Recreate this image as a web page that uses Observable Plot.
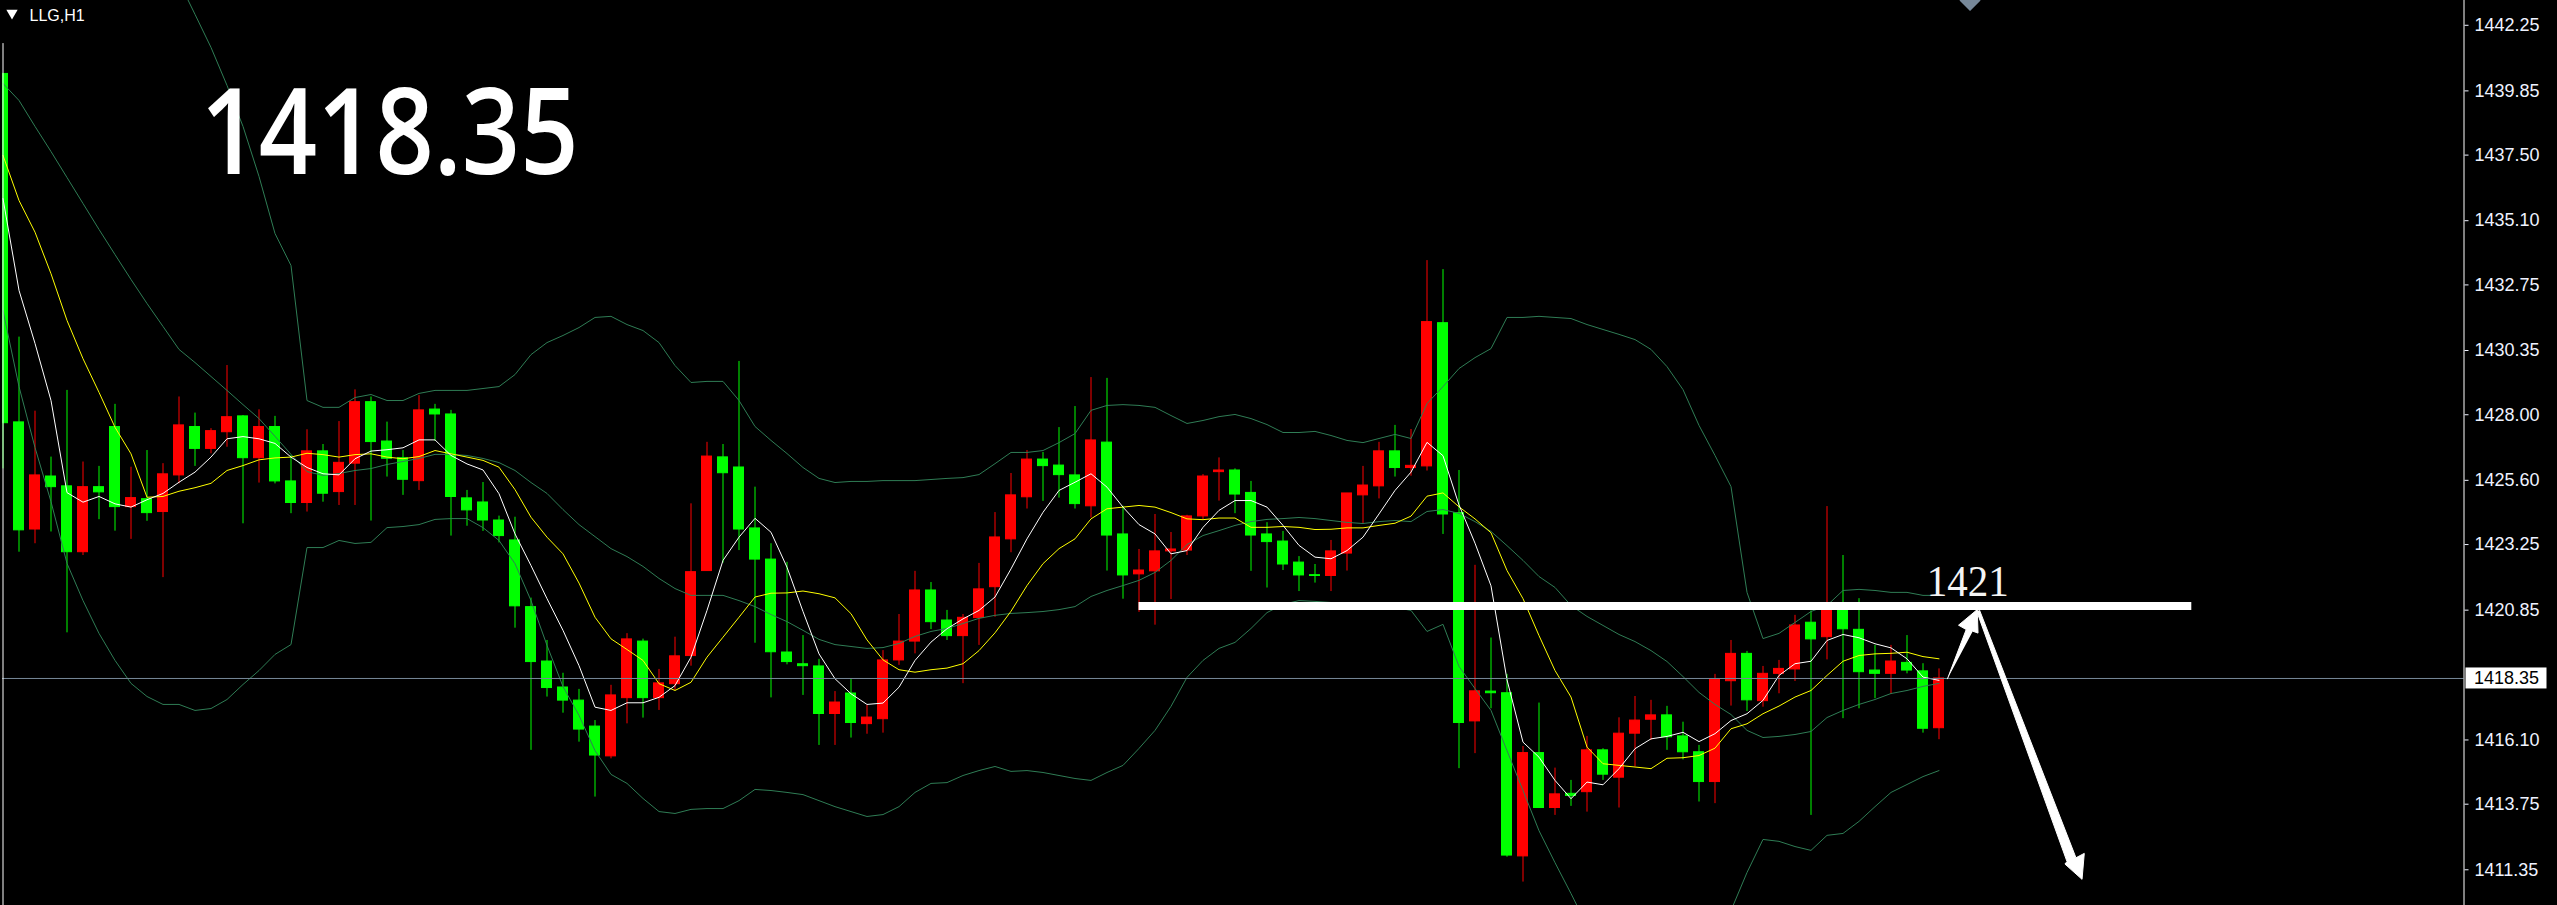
<!DOCTYPE html>
<html><head><meta charset="utf-8">
<script src="https://cdn.jsdelivr.net/npm/d3@7"></script>
<script src="https://cdn.jsdelivr.net/npm/@observablehq/plot@0.6"></script>
<style>
html,body{margin:0;padding:0;background:#000;overflow:hidden;}
#chart svg{display:block;}
</style></head><body><div id="chart"></div>
<script>
// ---------- data ----------
const symbolLabel = "LLG,H1";
const open = [1440.47,1427.72,1423.80,1425.74,1425.38,1422.97,1425.35,1427.55,1424.62,1424.91,
1424.44,1425.78,1427.55,1426.75,1427.36,1427.94,1426.41,1427.55,1425.56,1424.77,
1426.66,1425.17,1426.21,1428.46,1427.02,1426.41,1425.57,1428.19,1428.01,1424.94,
1424.79,1424.13,1423.40,1420.96,1418.97,1418.02,1417.54,1416.59,1415.50,1417.63,
1419.70,1417.63,1418.14,1419.17,1422.28,1426.44,1426.07,1423.84,1422.70,1419.30,
1418.87,1418.79,1417.05,1417.80,1416.68,1416.86,1419.01,1419.70,1421.57,1420.47,
1419.90,1420.56,1421.69,1423.44,1424.98,1426.36,1426.14,1425.78,1424.65,1426.98,
1423.62,1422.16,1422.27,1423.00,1423.03,1424.28,1425.90,1425.96,1425.14,1423.62,
1423.36,1422.59,1422.13,1422.10,1422.92,1425.05,1425.38,1426.66,1426.05,1426.11,
1431.35,1424.40,1416.78,1417.87,1417.81,1411.84,1415.62,1413.61,1414.13,1414.19,
1415.72,1414.72,1416.33,1416.84,1417.00,1416.23,1415.65,1414.56,1418.25,1419.25,
1417.52,1418.52,1418.68,1420.39,1419.86,1420.84,1420.13,1418.64,1418.52,1418.92,
1418.61,1416.53];
const high = [1440.47,1430.84,1428.13,1426.45,1428.89,1426.27,1426.11,1428.38,1426.08,1426.69,
1426.21,1428.65,1428.06,1427.49,1429.80,1427.97,1428.18,1427.94,1426.51,1427.45,
1426.91,1427.75,1428.91,1428.65,1427.73,1426.69,1428.70,1428.38,1428.16,1425.23,
1425.52,1424.29,1424.25,1421.29,1419.74,1418.54,1417.95,1416.81,1418.10,1419.99,
1419.79,1418.68,1419.86,1424.74,1426.99,1426.91,1429.95,1425.35,1423.28,1422.60,
1419.92,1419.05,1417.87,1418.31,1417.36,1419.37,1420.69,1422.27,1421.86,1420.84,
1420.69,1422.56,1424.42,1425.85,1426.69,1426.62,1427.53,1428.30,1429.36,1429.33,
1424.65,1423.07,1424.35,1423.69,1424.32,1425.81,1426.42,1426.02,1425.56,1424.05,
1423.73,1422.81,1422.52,1423.40,1425.12,1426.11,1426.99,1427.61,1427.46,1433.64,
1433.31,1425.96,1422.49,1419.83,1418.50,1415.86,1417.45,1415.07,1414.62,1416.23,
1415.78,1416.91,1417.69,1417.55,1417.33,1416.75,1415.90,1418.50,1419.74,1419.34,
1418.79,1419.01,1420.66,1420.82,1424.64,1422.85,1421.27,1419.56,1419.56,1419.92,
1418.89,1418.70];
const low = [1426.02,1422.97,1423.28,1423.71,1420.02,1422.85,1424.16,1423.74,1423.44,1424.10,
1422.04,1425.47,1426.11,1426.57,1426.81,1424.01,1425.50,1425.47,1424.38,1424.44,
1424.80,1424.68,1424.68,1424.11,1425.72,1425.05,1425.23,1427.03,1423.56,1423.92,
1423.73,1423.31,1420.19,1415.72,1417.67,1417.08,1416.02,1414.01,1415.41,1416.69,
1416.90,1417.18,1417.91,1418.80,1422.28,1422.57,1423.03,1419.64,1417.64,1418.85,
1417.73,1415.90,1415.90,1416.17,1416.31,1416.35,1418.83,1419.25,1420.14,1419.74,
1418.16,1419.56,1420.59,1422.95,1424.55,1424.83,1424.95,1424.55,1424.22,1422.28,
1421.25,1420.77,1420.30,1421.24,1422.85,1424.16,1424.84,1424.38,1422.27,1421.66,
1422.30,1421.53,1421.84,1421.53,1422.28,1424.01,1424.92,1425.72,1425.75,1425.94,
1423.62,1415.05,1415.60,1417.24,1411.81,1410.90,1413.61,1413.34,1413.67,1413.46,
1414.62,1413.61,1415.11,1416.08,1415.72,1415.37,1413.83,1413.77,1417.34,1417.14,
1417.30,1417.79,1418.24,1413.34,1419.03,1416.88,1417.24,1417.61,1417.77,1418.52,
1416.35,1416.11];
const close = [1427.69,1423.77,1425.78,1425.35,1422.97,1425.35,1425.16,1424.62,1424.95,1424.40,
1425.82,1427.61,1426.75,1427.40,1427.91,1426.41,1427.55,1425.56,1424.77,1426.66,
1425.11,1426.24,1428.46,1427.00,1426.39,1425.62,1428.16,1428.01,1424.99,1424.50,
1424.13,1423.56,1420.99,1418.95,1418.00,1417.54,1416.48,1415.53,1417.73,1419.78,
1417.63,1418.17,1419.16,1422.24,1426.47,1425.86,1423.80,1422.70,1419.31,1418.95,
1418.80,1417.05,1417.47,1416.72,1416.92,1419.01,1419.70,1421.57,1420.41,1419.90,
1420.57,1421.61,1423.51,1425.05,1426.36,1426.12,1425.79,1424.73,1427.06,1423.58,
1422.12,1422.30,1423.00,1423.07,1424.28,1425.74,1425.96,1425.08,1423.58,1423.34,
1422.52,1422.12,1422.10,1423.00,1425.12,1425.41,1426.66,1426.05,1426.13,1431.39,
1424.35,1416.72,1417.88,1417.81,1411.87,1415.62,1413.61,1414.11,1414.05,1415.72,
1414.83,1416.33,1416.81,1417.00,1416.20,1415.65,1414.56,1418.31,1419.25,1417.55,
1418.52,1418.70,1420.29,1419.78,1420.88,1420.15,1418.58,1418.52,1418.97,1418.64,
1416.51,1418.35];
// fast moving average (white)
const maFast = [1435.91,1432.55,1430.61,1428.52,1425.15,1424.80,1425.01,1424.74,1424.62,1424.89,
1425.12,1425.53,1425.90,1426.45,1427.12,1427.20,1427.12,1426.95,1426.45,1426.07,
1425.84,1425.80,1426.39,1426.67,1426.72,1426.79,1427.08,1427.08,1426.51,1426.20,
1425.98,1425.11,1423.64,1422.48,1421.27,1420.11,1418.82,1417.30,1417.18,1417.46,
1417.46,1417.66,1418.09,1419.13,1420.84,1422.67,1423.52,1424.21,1423.70,1422.42,
1420.80,1419.25,1418.34,1417.79,1417.40,1417.45,1418.03,1419.01,1419.68,1420.17,
1420.53,1420.84,1421.33,1422.36,1423.46,1424.43,1425.23,1425.53,1425.84,1425.35,
1424.62,1423.98,1423.64,1422.91,1423.03,1423.88,1424.50,1424.86,1424.86,1424.62,
1423.95,1423.22,1422.79,1422.73,1423.03,1423.52,1424.37,1425.23,1425.90,1426.99,
1426.50,1424.70,1423.30,1421.74,1418.30,1416.02,1415.47,1414.62,1413.95,1414.56,
1414.46,1415.05,1415.78,1416.14,1416.23,1416.38,1416.04,1416.33,1416.81,1417.06,
1417.55,1418.46,1418.89,1418.98,1419.74,1419.96,1419.84,1419.62,1419.47,1419.07,
1418.40,1418.28];
// slow moving average (yellow)
const maSlow = [1437.49,1435.84,1434.68,1433.16,1431.45,1430.05,1428.82,1427.54,1426.57,1424.98,
1425.01,1425.20,1425.33,1425.49,1425.96,1426.14,1426.35,1426.42,1426.45,1426.59,
1426.54,1426.45,1426.54,1426.57,1426.45,1426.39,1426.47,1426.69,1426.57,1426.45,
1426.33,1426.08,1425.26,1424.25,1423.52,1422.91,1421.84,1420.59,1419.80,1419.41,
1419.01,1418.16,1417.91,1418.21,1419.13,1419.86,1420.59,1421.33,1421.47,1421.48,
1421.55,1421.45,1421.30,1420.72,1419.76,1419.03,1418.67,1418.58,1418.67,1418.73,
1418.89,1419.37,1420.02,1420.81,1421.75,1422.55,1423.10,1423.46,1424.19,1424.56,
1424.62,1424.68,1424.62,1424.42,1424.19,1424.16,1424.22,1424.22,1423.88,1423.88,
1423.91,1423.88,1423.80,1423.81,1423.86,1423.86,1423.95,1424.03,1424.29,1425.02,
1425.14,1424.63,1424.19,1423.68,1422.30,1421.27,1419.92,1418.64,1417.67,1415.84,
1415.23,1415.17,1415.11,1415.05,1415.43,1415.45,1415.53,1415.80,1416.51,1416.69,
1417.06,1417.34,1417.67,1417.91,1418.46,1418.98,1419.19,1419.25,1419.27,1419.31,
1419.15,1419.07];
// Bollinger bands (upper starts above the visible window)
const bbUpper = [null,null,null,null,null,null,null,null,null,1446.27,
1445.06,1443.85,1442.65,1441.44,1440.05,1438.55,1436.72,1434.63,1433.46,1428.52,
1428.27,1428.27,1428.63,1428.74,1428.52,1428.52,1428.78,1428.89,1428.89,1428.89,
1428.96,1429.03,1429.47,1430.20,1430.64,1430.90,1431.19,1431.56,1431.60,1431.30,
1431.08,1430.64,1429.80,1429.18,1429.22,1429.22,1428.52,1427.57,1427.06,1426.58,
1426.07,1425.67,1425.52,1425.56,1425.56,1425.59,1425.59,1425.59,1425.63,1425.67,
1425.70,1425.81,1426.21,1426.62,1426.62,1426.69,1426.98,1427.31,1428.16,1428.34,
1428.37,1428.34,1428.27,1427.97,1427.68,1427.79,1427.93,1428.01,1427.86,1427.64,
1427.35,1427.35,1427.39,1427.24,1427.06,1426.98,1427.13,1427.28,1427.13,1428.41,
1429.03,1429.69,1430.09,1430.42,1431.56,1431.56,1431.60,1431.56,1431.52,1431.30,
1431.12,1430.94,1430.75,1430.39,1429.76,1428.92,1427.61,1426.51,1425.37,1421.50,
1419.81,1420.00,1420.40,1420.80,1421.02,1421.57,1421.61,1421.57,1421.50,1421.50,
1421.39,1421.39];
const bbMiddle = [1440.12,1439.50,1438.55,1437.63,1436.68,1435.73,1434.78,1433.86,1432.95,1432.07,
1431.23,1430.39,1429.91,1429.40,1428.89,1428.37,1427.86,1427.21,1426.55,1425.92,
1425.78,1425.85,1425.96,1426.03,1426.18,1426.29,1426.40,1426.55,1426.55,1426.51,
1426.40,1426.25,1425.96,1425.52,1425.12,1424.53,1423.98,1423.54,1423.10,1422.81,
1422.45,1422.01,1421.64,1421.39,1421.39,1421.39,1421.20,1420.98,1420.69,1420.43,
1420.11,1419.78,1419.59,1419.52,1419.45,1419.48,1419.63,1419.89,1420.07,1420.18,
1420.36,1420.55,1420.66,1420.73,1420.76,1420.80,1420.87,1420.98,1421.35,1421.57,
1421.75,1421.94,1422.23,1422.67,1423.25,1423.58,1423.76,1423.95,1424.09,1424.17,
1424.20,1424.24,1424.20,1424.13,1424.06,1424.02,1424.09,1424.13,1424.09,1424.46,
1424.53,1424.39,1424.09,1423.73,1423.21,1422.67,1422.08,1421.68,1421.02,1420.62,
1420.29,1419.96,1419.70,1419.37,1418.97,1418.42,1417.84,1417.40,1417.03,1416.45,
1416.19,1416.23,1416.30,1416.41,1416.92,1417.18,1417.40,1417.58,1417.80,1417.91,
1418.06,1418.17];
const bbLower = [1431.81,1429.03,1426.80,1424.82,1422.56,1421.20,1420.00,1419.01,1418.17,1417.69,
1417.40,1417.40,1417.18,1417.25,1417.58,1418.13,1418.64,1419.23,1419.59,1423.14,
1423.14,1423.40,1423.29,1423.33,1423.87,1423.91,1423.98,1424.17,1424.20,1424.20,
1423.87,1423.40,1422.55,1421.20,1419.56,1418.05,1417.00,1415.71,1414.84,1414.51,
1413.96,1413.48,1413.41,1413.56,1413.59,1413.59,1413.88,1414.29,1414.25,1414.18,
1414.10,1413.88,1413.66,1413.48,1413.30,1413.37,1413.66,1414.18,1414.51,1414.54,
1414.80,1414.98,1415.13,1414.95,1414.98,1414.91,1414.80,1414.69,1414.62,1414.91,
1415.17,1415.79,1416.45,1417.33,1418.39,1419.01,1419.45,1419.67,1420.18,1420.76,
1421.06,1421.20,1421.17,1421.13,1421.09,1421.06,1421.02,1420.95,1420.84,1420.07,
1420.33,1418.79,1417.98,1417.18,1415.71,1414.25,1412.78,1411.61,1410.48,1409.31,
1408.40,1407.66,1407.11,1406.75,1406.57,1406.93,1407.85,1408.95,1409.86,1411.25,
1412.46,1412.39,1412.20,1412.06,1412.61,1412.68,1413.12,1413.66,1414.18,1414.47,
1414.76,1414.98];
// price-axis tick labels
const yTicks = [1442.25,1439.85,1437.50,1435.10,1432.75,1430.35,1428.00,1425.60,1423.25,1420.85,1416.10,1413.75,1411.35];
// annotations (bar index, price)
const resistance = 1421;
const resistanceSpan = [71, 136.8];
const resistanceLabelPos = [122.8, 1421.37];
const arrowUpIdx   = [121.53,122.70,122.22,123.39,123.44,123.11];
const arrowUpPrice = [1418.34,1420.14,1420.30,1420.87,1420.01,1420.08];
const arrowDnIdx   = [123.34,129.00,128.87,129.94,130.08,129.56,123.54];
const arrowDnPrice = [1420.84,1411.65,1411.56,1411.00,1411.95,1411.79,1420.84];
const shiftMarkerIdx = 122.94;
const leftLineTop = 1441.58;

// ---------- scales ----------
const xDomain = [-0.03125, 153.8125];
const yDomain = [1410.043, 1443.157];
const lastClose = close[close.length - 1];
const bigLabel = lastClose.toFixed(2);
const levelLabel = String(resistance);

const candles = open.map((o, k) => ({i: k, open: o, high: high[k], low: low[k], close: close[k]}));
const isUp = d => d.close >= d.open;
const RED = "#ff0000", GREEN = "#00ff00", BAND = "#2f7d55";
const half = 0.3125;
const arrowUp = arrowUpIdx.map((v, k) => ({i: v, p: arrowUpPrice[k]}));
const arrowDn = arrowDnIdx.map((v, k) => ({i: v, p: arrowDnPrice[k]}));
const series = () => ({x: (d, k) => k, y: d => d});

const plot = Plot.plot({
  width: 2557, height: 905,
  marginLeft: 2, marginRight: 93.5, marginTop: 0, marginBottom: 0,
  style: {background: "#000", color: "#fff", fontFamily: "'Liberation Sans', Arial, sans-serif", overflow: "hidden"},
  x: {domain: xDomain, axis: null},
  y: {domain: yDomain, axis: null},
  marks: [
    // wicks
    Plot.ruleX(candles, {filter: isUp, x: "i", y1: "low", y2: "high", stroke: RED, strokeWidth: 1, clip: true}),
    Plot.ruleX(candles, {filter: d => !isUp(d), x: "i", y1: "low", y2: "high", stroke: GREEN, strokeWidth: 1, clip: true}),
    // bodies
    Plot.rect(candles, {filter: isUp, x1: d => d.i - half, x2: d => d.i + half,
      y1: d => Math.min(d.open, d.close), y2: d => Math.max(d.open, d.close),
      fill: RED, stroke: RED, strokeWidth: 1, clip: true}),
    Plot.rect(candles, {filter: d => !isUp(d), x1: d => d.i - half, x2: d => d.i + half,
      y1: d => Math.min(d.open, d.close), y2: d => Math.max(d.open, d.close),
      fill: GREEN, stroke: GREEN, strokeWidth: 1, clip: true}),
    // Bollinger bands
    Plot.line(bbUpper, {...series(), stroke: BAND, strokeWidth: 1, clip: true}),
    Plot.line(bbMiddle, {...series(), stroke: BAND, strokeWidth: 1, clip: true}),
    Plot.line(bbLower, {...series(), stroke: BAND, strokeWidth: 1, clip: true}),
    // moving averages
    Plot.line(maSlow, {...series(), stroke: "#ffff00", strokeWidth: 1, clip: true}),
    Plot.line(maFast, {...series(), stroke: "#ffffff", strokeWidth: 1, clip: true}),
    // current price line
    Plot.ruleY([lastClose], {stroke: "#778899", strokeWidth: 1}),
    // left border line
    Plot.ruleX([xDomain[0]], {y1: leftLineTop, y2: yDomain[0], stroke: "#fff", strokeWidth: 1, dx: 0.5}),
    // price axis line + ticks
    Plot.ruleX([xDomain[1]], {stroke: "#fff", strokeWidth: 1}),
    Plot.axisY(yTicks, {anchor: "right", tickSize: 4, tickPadding: 6.5, tickFormat: d => d.toFixed(2),
      color: "#eef2ff", fontSize: 18}),
    // resistance line & label
    Plot.ruleY([resistance], {x1: resistanceSpan[0], x2: resistanceSpan[1], stroke: "#fff", strokeWidth: 8}),
    Plot.text([levelLabel], {x: resistanceLabelPos[0], y: resistanceLabelPos[1], textAnchor: "middle",
      lineAnchor: "bottom", fontSize: 44, fontFamily: "'Liberation Serif', 'DejaVu Serif', serif", fill: "#f4f4f4"}),
    // arrows
    Plot.line(arrowUp, {x: "i", y: "p", fill: "#fff", stroke: "#fff", strokeWidth: 1}),
    Plot.line(arrowDn, {x: "i", y: "p", fill: "#fff", stroke: "#fff", strokeWidth: 1}),
    // chart-shift marker
    Plot.dot([0], {x: shiftMarkerIdx, y: yDomain[1], symbol: "square", r: 8.4, rotate: 45, fill: "#778899"}),
    // header
    Plot.dot([0], {frameAnchor: "top-left", dx: 9.5, dy: 12.5, symbol: "triangle", r: 4.2, rotate: 180, fill: "#fff"}),
    Plot.text([symbolLabel], {frameAnchor: "top-left", dx: 27, dy: 15, lineAnchor: "middle", textAnchor: "start",
      fontSize: 16, fill: "#fff"}),
    // big price
    Plot.text([bigLabel], {frameAnchor: "top-left", dx: 198, dy: 173, lineAnchor: "bottom",
      textAnchor: "start", fontSize: 119, fontWeight: 600, fontFamily: "'Open Sans', 'Noto Sans', sans-serif",
      fill: "#fff"})
  ]
});

// stretch the two annotation texts to their measured widths
function stretch(content, len) {
  d3.select(plot).selectAll("text").filter(function() { return this.textContent === content; })
    .attr("textLength", len).attr("lengthAdjust", "spacingAndGlyphs");
}
stretch(bigLabel, 378);
stretch(levelLabel, 82);

// current-price box on the price axis
const ys = plot.scale("y"), xs = plot.scale("x");
const yScale = ys.apply ? (v => ys.apply(v)) : d3.scaleLinear(ys.domain, ys.range);
const xRight = xs.range[1];
const yy = yScale(lastClose);
d3.select(plot).append("rect").attr("x", xRight + 2).attr("y", yy - 10.5).attr("width", 81).attr("height", 21).attr("fill", "#fff");
d3.select(plot).append("text").attr("x", xRight + 10.5).attr("y", yy).attr("dy", "0.32em")
  .attr("text-anchor", "start")
  .attr("fill", "#000").attr("font-size", 18).attr("font-family", "'Liberation Sans', Arial, sans-serif")
  .text(bigLabel);

document.getElementById("chart").appendChild(plot);
</script></body></html>
